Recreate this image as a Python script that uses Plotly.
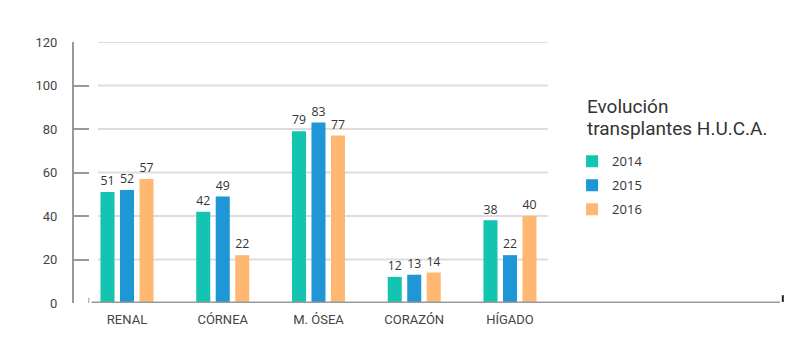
import plotly.graph_objects as go

categories = ["RENAL", "CÓRNEA", "M. ÓSEA", "CORAZÓN", "HÍGADO"]
years = ["2014", "2015", "2016"]
v2014 = [51, 42, 79, 12, 38]
v2015 = [52, 49, 83, 13, 22]
v2016 = [57, 22, 77, 14, 40]
y_ticks = [0, 20, 40, 60, 80, 100, 120]
title_lines = ["Evolución", "transplantes H.U.C.A."]

colors = ["#13C5B1", "#1F96D5", "#FFB872"]
series = [v2014, v2015, v2016]

fig = go.Figure()
for i, (name, vals) in enumerate(zip(years, series)):
    fig.add_trace(go.Bar(
        x=categories, y=vals, name=name, legendgroup=name,
        marker=dict(color=colors[i], line=dict(width=0)),
        text=[str(v) for v in vals], textposition="outside",
        textfont=dict(family="Open Sans", size=13, color="#333"),
        cliponaxis=False,
    ))

# page body has an 8px offset; figure sized to fit the window
W, H = 797, 351
ml, mr, mt, mb = 66, 25, 34, 56
shapes = []
for t in y_ticks[1:]:
    shapes.append(dict(type="line", xref="paper", yref="y", x0=0.034, x1=0.671,
                       y0=t, y1=t, line=dict(color="#DDDDDD", width=2), layer="below"))
shapes.append(dict(type="line", xref="paper", yref="y", x0=0.025, x1=1.0,
                   y0=0, y1=0, line=dict(color="#999999", width=3)))
shapes.append(dict(type="line", xref="paper", yref="paper", x0=0.021, x1=0.021,
                   y0=0, y1=0.02, line=dict(color="#999999", width=1)))
shapes.append(dict(type="line", xref="paper", yref="paper", x0=1.004, x1=1.004,
                   y0=0.004, y1=0.03, line=dict(color="#222222", width=2)))

annotations = []
for k, line in enumerate(title_lines):
    annotations.append(dict(text=line, xref="paper", yref="paper", x=0.7235,
                            y=0.752 - k * 0.084, xanchor="left", yanchor="middle",
                            showarrow=False,
                            font=dict(family="Roboto", size=19, color="#333")))

fig.update_layout(
    width=W, height=H,
    margin=dict(l=ml, r=mr, t=mt, b=mb),
    paper_bgcolor="white", plot_bgcolor="white",
    barmode="group", bargap=0.389, bargroupgap=0.28,
    font=dict(family="Roboto", color="#444"),
    xaxis=dict(range=[-0.5535, 6.82], showgrid=False, showline=False, zeroline=False,
               ticks="", tickfont=dict(family="Roboto", size=13, color="#444"),
               ticklabelstandoff=7),
    yaxis=dict(range=[0, 120], tickvals=y_ticks, showgrid=False, zeroline=False,
               showline=True, linecolor="#999999", linewidth=2,
               ticks="inside", ticklen=15, tickcolor="#999999", tickwidth=2,
               tickfont=dict(family="Roboto", size=13, color="#444"),
               ticklabelstandoff=12),
    shapes=shapes,
    annotations=annotations,
    showlegend=True,
    legend=dict(x=0.7055, y=0.60, xanchor="left", yanchor="top",
                font=dict(family="Open Sans", size=13, color="#333"),
                tracegroupgap=4, itemwidth=30, bgcolor="rgba(0,0,0,0)"),
)
fig.write_html("out.html")
